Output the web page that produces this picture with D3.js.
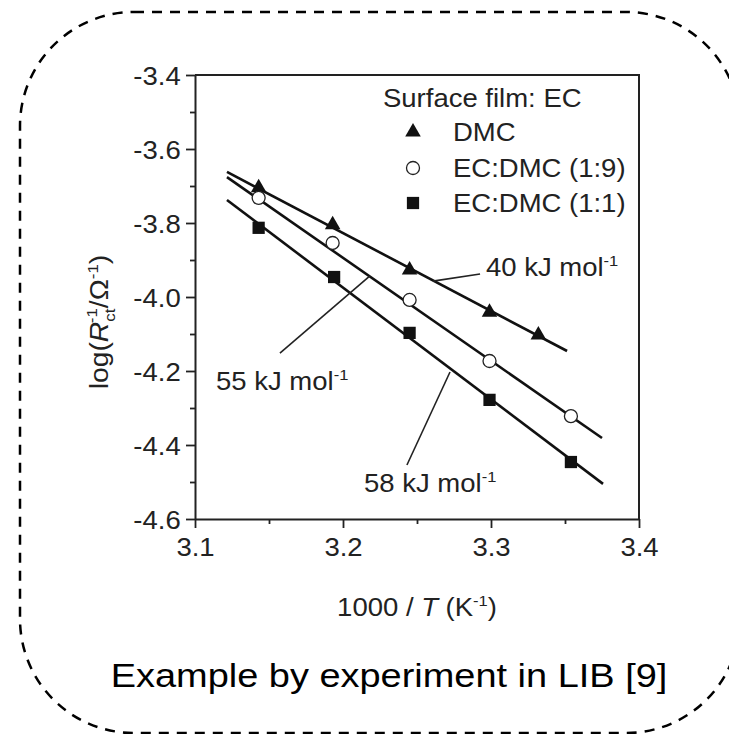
<!DOCTYPE html>
<html>
<head>
<meta charset="utf-8">
<script src="https://cdn.jsdelivr.net/npm/d3@7"></script>
<style>
  body { margin: 0; background: #fff; overflow: hidden; }
  svg text { font-family: "Liberation Sans", Arial, sans-serif; fill: #222; }
</style>
</head>
<body>
<div id="vis-container"></div>
<script>
// data
const dmcX  = [3.143, 3.193, 3.245, 3.299, 3.332];
const dmcY  = [-3.705, -3.805, -3.927, -4.041, -4.103];
const ec19X = [3.143, 3.193, 3.245, 3.299, 3.354];
const ec19Y = [-3.732, -3.854, -4.008, -4.173, -4.322];
const ec11X = [3.143, 3.194, 3.245, 3.299, 3.354];
const ec11Y = [-3.813, -3.946, -4.097, -4.278, -4.446];

// fitted lines: [x0, y0, x1, y1]
const fitDMC  = [3.1216, -3.662, 3.3514, -4.146];
const fitEC19 = [3.1216, -3.676, 3.3750, -4.381];
const fitEC11 = [3.1216, -3.738, 3.3757, -4.505];

const xTicks = [3.1, 3.2, 3.3, 3.4];
const yTicks = [-4.6, -4.4, -4.2, -4.0, -3.8, -3.6, -3.4];

const legendNames = ["DMC", "EC:DMC (1:9)", "EC:DMC (1:1)"];

// activation energy labels: text anchor and leader line, in data units
const energyLabels = [
  { text: "40 kJ mol", tx: 3.2966, ty: -3.943, lx0: 3.2608, ly0: -3.957, lx1: 3.2926, ly1: -3.938 },
  { text: "55 kJ mol", tx: 3.1142, ty: -4.2514, lx0: 3.1574, ly0: -4.1514, lx1: 3.2182, ly1: -3.943 },
  { text: "58 kJ mol", tx: 3.2142, ty: -4.527, lx0: 3.2432, ly0: -4.454, lx1: 3.2723, ly1: -4.2027 }
];

const W = 729, H = 734;
const plot = { left: 195, right: 639, top: 75, bottom: 519 };
const stretch = 1.1;   // the source text is a little wide
const fs = 25;

const svg = d3.select("#vis-container")
  .append("svg")
    .attr("width", W)
    .attr("height", H);

// dashed rounded frame around everything (right side runs off the page)
svg.append("rect")
  .attr("x", 20).attr("y", 12)
  .attr("width", 720).attr("height", 721)
  .attr("rx", 114).attr("ry", 114)
  .attr("fill", "none")
  .attr("stroke", "#000")
  .attr("stroke-width", 2.5)
  .attr("stroke-dasharray", "10,8");

const x = d3.scaleLinear().domain([3.1, 3.4]).range([plot.left, plot.right]);
const y = d3.scaleLinear().domain([-4.6, -3.4]).range([plot.bottom, plot.top]);

const fmt = d => d.toFixed(1);

// minor ticks
svg.append("g")
  .attr("transform", `translate(0, ${plot.bottom})`)
  .call(d3.axisBottom(x).tickValues([3.15, 3.25, 3.35]).tickSize(5).tickFormat(""))
  .call(g => g.select(".domain").remove());
svg.append("g")
  .attr("transform", `translate(${plot.left}, 0)`)
  .call(d3.axisLeft(y).tickValues([-4.5, -4.3, -4.1, -3.9, -3.7, -3.5]).tickSize(5).tickFormat(""))
  .call(g => g.select(".domain").remove());

// major axes
const xAxis = svg.append("g")
  .attr("transform", `translate(0, ${plot.bottom})`)
  .call(d3.axisBottom(x).tickValues(xTicks).tickSize(9).tickPadding(10).tickSizeOuter(0).tickFormat(fmt));
xAxis.selectAll("text")
  .attr("font-size", fs)
  .attr("dy", "0.71em")
  .attr("transform", `scale(${stretch},1)`);

const yAxis = svg.append("g")
  .attr("transform", `translate(${plot.left}, 0)`)
  .call(d3.axisLeft(y).tickValues(yTicks).tickSize(9).tickPadding(4).tickSizeOuter(0).tickFormat(fmt));
yAxis.selectAll("text")
  .attr("font-size", fs)
  .attr("dy", "0.36em")
  .attr("transform", `scale(${stretch},1)`);

svg.selectAll(".tick line").attr("stroke", "#222").attr("stroke-width", 1.8);
svg.selectAll(".domain").attr("stroke", "#222").attr("stroke-width", 2);
svg.selectAll(".tick text").attr("fill", "#222").style("font-family", "'Liberation Sans', Arial, sans-serif");

// top and right border of the plot box
svg.append("path")
  .attr("d", `M${plot.left},${plot.top}H${plot.right}V${plot.bottom}`)
  .attr("fill", "none")
  .attr("stroke", "#222")
  .attr("stroke-width", 2);

// fit lines
[fitDMC, fitEC19, fitEC11].forEach(f => {
  svg.append("line")
    .attr("x1", x(f[0])).attr("y1", y(f[1]))
    .attr("x2", x(f[2])).attr("y2", y(f[3]))
    .attr("stroke", "#111")
    .attr("stroke-width", 2.6);
});

// markers
const tri = d3.symbol().type(d3.symbolTriangle).size(105);
const sq = d3.symbol().type(d3.symbolSquare).size(150);

svg.append("g").selectAll("path")
  .data(d3.zip(dmcX, dmcY))
  .enter().append("path")
    .attr("d", tri)
    .attr("transform", d => `translate(${x(d[0])}, ${y(d[1])})`)
    .attr("fill", "#111");

svg.append("g").selectAll("circle")
  .data(d3.zip(ec19X, ec19Y))
  .enter().append("circle")
    .attr("cx", d => x(d[0]))
    .attr("cy", d => y(d[1]))
    .attr("r", 6.5)
    .attr("fill", "#fff")
    .attr("stroke", "#222")
    .attr("stroke-width", 1.3);

svg.append("g").selectAll("path")
  .data(d3.zip(ec11X, ec11Y))
  .enter().append("path")
    .attr("d", sq)
    .attr("transform", d => `translate(${x(d[0])}, ${y(d[1])})`)
    .attr("fill", "#111");

// text helper with horizontal stretch
function stretchedText(px, py, anchor) {
  return svg.append("text")
    .attr("transform", `translate(${px}, ${py}) scale(${stretch},1)`)
    .attr("text-anchor", anchor || "start")
    .attr("font-size", fs);
}

// legend
stretchedText(383, 107).text("Surface film: EC");
const legY = [132, 168, 203];
svg.append("path").attr("d", tri).attr("transform", `translate(413, ${legY[0]})`).attr("fill", "#111");
svg.append("circle").attr("cx", 413).attr("cy", legY[1]).attr("r", 6.5)
  .attr("fill", "#fff").attr("stroke", "#222").attr("stroke-width", 1.3);
svg.append("path").attr("d", sq).attr("transform", `translate(413, ${legY[2]})`).attr("fill", "#111");
legendNames.forEach((n, i) => stretchedText(453, legY[i] + 9).text(n));

// activation energy labels
energyLabels.forEach(a => {
  svg.append("line")
    .attr("x1", x(a.lx0)).attr("y1", y(a.ly0))
    .attr("x2", x(a.lx1)).attr("y2", y(a.ly1))
    .attr("stroke", "#222")
    .attr("stroke-width", 1.6);
  const t = stretchedText(x(a.tx), y(a.ty));
  t.append("tspan").text(a.text);
  t.append("tspan").attr("font-size", 15).attr("dy", -10).text("-1");
});

// x axis title
const xt = stretchedText((plot.left + plot.right) / 2, 616, "middle");
xt.append("tspan").text("1000 / ");
xt.append("tspan").attr("font-style", "italic").text("T");
xt.append("tspan").text(" (K");
xt.append("tspan").attr("font-size", 15).attr("dy", -10).text("-1");
xt.append("tspan").attr("dy", 10).text(")");

// y axis title
const yt = svg.append("text")
  .attr("transform", `translate(108, 322) rotate(-90) scale(1.13,1)`)
  .attr("text-anchor", "middle")
  .attr("font-size", fs);
yt.append("tspan").text("log(");
yt.append("tspan").attr("font-style", "italic").text("R");
yt.append("tspan").attr("font-size", 15).attr("dy", 7).text("ct");
yt.append("tspan").attr("font-size", 15).attr("dx", -13).attr("dy", -18).text("-1");
yt.append("tspan").attr("dy", 11).text("/Ω");
yt.append("tspan").attr("font-size", 15).attr("dy", -10).text("-1");
yt.append("tspan").attr("dy", 10).text(")");

// caption
svg.append("text")
  .attr("transform", `translate(389, 687) scale(1.15,1)`)
  .attr("text-anchor", "middle")
  .attr("font-size", 33)
  .style("fill", "#000")
  .text("Example by experiment in LIB [9]");
</script>
</body>
</html>
